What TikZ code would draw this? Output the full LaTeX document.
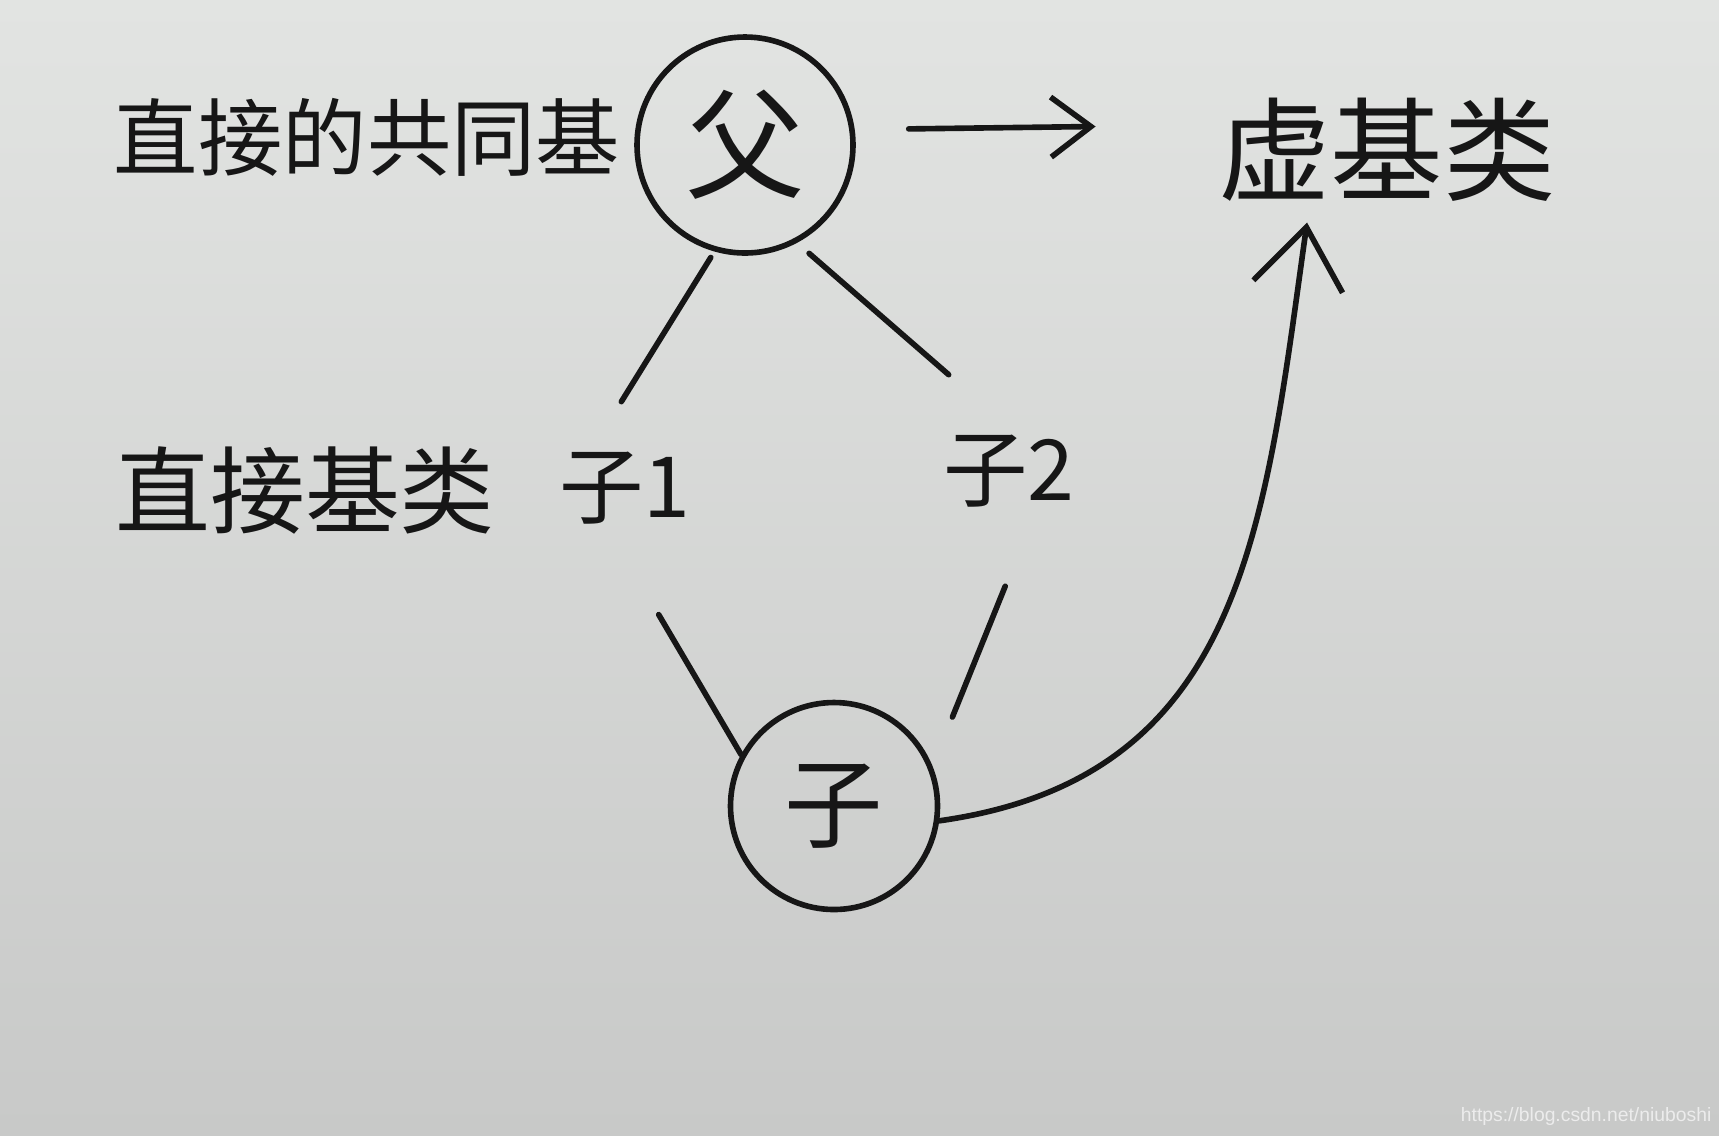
\documentclass[tikz,border=0pt]{standalone}
\usepackage{fontspec}
\setmainfont{Liberation Sans}
\newfontfamily\cjk{Noto Sans CJK SC}
\usetikzlibrary{arrows.meta, calc}
\definecolor{paper}{RGB}{226,228,226}
\definecolor{paperdark}{RGB}{200,201,200}
\definecolor{ink}{RGB}{22,22,22}
\definecolor{markgray}{RGB}{236,236,236}

\begin{document}
\begin{tikzpicture}[x=0.1mm, y=-0.1mm,
  lbl/.style={text=ink, font=\cjk\fontsize{24}{28}\selectfont, inner sep=2pt},
  cls/.style={draw=ink, line width=1.6pt, circle, text=ink, inner sep=0pt},
  link/.style={draw=ink, line width=1.6pt, line cap=round}]

  % Paper
  \shade[top color=paper, bottom color=paperdark] (0,0) rectangle (1719,1135);
  \useasboundingbox (0,0) rectangle (1719,1135);

  % Top row
  \node[lbl] (common) at (367,137) {直接的共同基};
  \node[cls, minimum size=21.6mm, font=\cjk\fontsize{34}{40}\selectfont] (fu) at (745,145) {父};
  \node[lbl, font=\cjk\fontsize{32}{36}\selectfont] (xu) at (1387,150) {虚基类};
  \draw[link, -{Straight Barb[length=4mm,width=6mm]}, shorten <=5.4mm, shorten >=11.5mm]
    (fu.8) -- ([yshift=2.5mm]xu.west);

  % Middle row
  \node[lbl, font=\cjk\fontsize{27}{30}\selectfont] (direct) at (305,490) {直接基类};
  \node[lbl] (zi1) at (625,488) {子1};
  \node[lbl] (zi2) at (1009,471) {子2};
  \draw[link, shorten <=0.7mm, shorten >=5mm] (fu.-106) -- ([xshift=-3mm]zi1.north);
  \draw[link, shorten <=1.6mm, shorten >=8mm] (fu.-62) -- (zi2.north);

  % Bottom
  \node[cls, minimum size=20.7mm, font=\cjk\fontsize{28}{32}\selectfont] (zi) at (834,806) {子};
  \draw[link, shorten <=9.6mm] ([xshift=-1.5mm]zi1.south) -- (zi.151);
  \draw[link, shorten <=7.7mm, shorten >=5.3mm] ([xshift=2.5mm]zi2.south) -- (zi.22);
  \draw[link, -{Straight Barb[length=6mm,width=9mm]}]
    (zi.-8) to[out=8, in=-98, looseness=1.12] ([xshift=-8mm, yshift=-1.3mm]xu.south);

  % Watermark
  \node[text=markgray, font=\fontsize{5.5}{6}\selectfont, anchor=east, inner sep=0pt] (mark) at (1712,1116) {https://blog.csdn.net/niuboshi};
\end{tikzpicture}
\end{document}
